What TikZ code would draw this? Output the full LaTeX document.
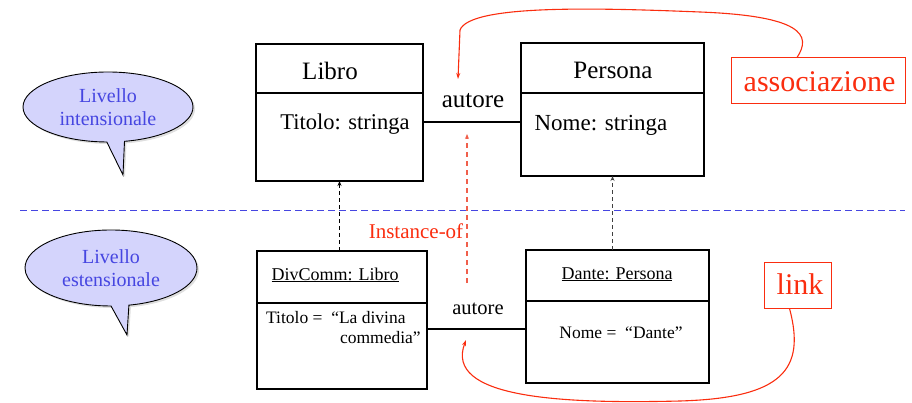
\documentclass[tikz,border=0pt]{standalone}
\usepackage{fontspec}
\setmainfont{Liberation Serif}
\usetikzlibrary{positioning,shapes.callouts,shadows,arrows.meta}

\definecolor{notered}{RGB}{250,45,15}
\definecolor{instred}{RGB}{240,95,75}
\definecolor{levelblue}{RGB}{70,70,225}
\definecolor{bubblefill}{RGB}{212,212,252}

\begin{document}
\begin{tikzpicture}[x=1pt, y=-1pt, line width=2.2pt,
  head/.style={draw, inner sep=0pt, outer sep=0pt},
  part/.style={draw, inner sep=0pt, outer sep=0pt},
  txt/.style={inner sep=0pt, anchor=base},
  level/.style={ellipse callout, draw, line width=0.9pt, fill=bubblefill,
    text=levelblue, inner sep=0pt, align=center, callout pointer arc=12,
    font=\fontsize{20}{23}\selectfont,
    drop shadow={opacity=0.25, shadow xshift=2pt, shadow yshift=-2pt}},
  note/.style={draw=notered, line width=1pt, text=notered, inner sep=0pt,
    font=\fontsize{30}{36}\selectfont},
  inst/.style={-{Stealth[length=5pt,width=4pt]}, line width=1.1pt, dash pattern=on 4pt off 3pt}]

  \useasboundingbox (0,0) rectangle (912,403);

  \node[head, minimum width=167, minimum height=49] (libro)    at (339.5,68.5) {};
  \node[part, minimum width=167, minimum height=88, below=0pt of libro]   (libroB) {};
  \node[head, minimum width=183, minimum height=50] (persona)  at (612.5,68) {};
  \node[part, minimum width=183, minimum height=83, below=0pt of persona] (personaB) {};
  \node[head, minimum width=170, minimum height=52] (divcomm)  at (342,277) {};
  \node[part, minimum width=170, minimum height=86, below=0pt of divcomm] (divcommB) {};
  \node[head, minimum width=183, minimum height=51] (dante)    at (617.5,275.5) {};
  \node[part, minimum width=183, minimum height=82, below=0pt of dante]   (danteB) {};

  \node[txt, font=\fontsize{25}{30}\selectfont]   (libroT)   at (330,80)  {Libro};
  \node[txt, font=\fontsize{25}{30}\selectfont]   (personaT) at (613,79)  {Persona};
  \node[txt, font=\fontsize{22.5}{27}\selectfont] (titolo)   at (345,130) {Titolo: stringa};
  \node[txt, font=\fontsize{23}{27}\selectfont]   (nome)     at (601,131) {Nome: stringa};
  \node[txt, font=\fontsize{25}{30}\selectfont]   (autoreA)  at (473,108) {autore};
  \node[txt, font=\fontsize{18}{22}\selectfont]   (divcommT) at (335,280) {\underline{DivComm: Libro}};
  \node[txt, font=\fontsize{18}{22}\selectfont]   (danteT)   at (617,279) {\underline{Dante: Persona}};
  \node[txt, font=\fontsize{17.5}{20}\selectfont, anchor=base west] (titoloV) at (265,334)
    {\begin{tabular}{@{}l@{\ \ }l@{}}Titolo = & ``La divina\\ & \ \ commedia''\end{tabular}};
  \node[txt, font=\fontsize{17.5}{21}\selectfont] (nomeV)    at (621,338) {Nome = \ ``Dante''};
  \node[txt, font=\fontsize{20.5}{24}\selectfont] (autoreB)  at (478,314) {autore};
  \node[txt, font=\fontsize{21}{25}\selectfont, text=notered] (instof) at (416,239) {Instance-of};

  \node[note, minimum width=174, minimum height=46] (assoc) at (818,81)    {};
  \node[txt, font=\fontsize{30}{36}\selectfont, text=notered] (assocT) at (819.5,92) {associazione};
  \node[note, minimum width=67, minimum height=46]  (link)  at (797.5,285) {};
  \node[txt, font=\fontsize{30}{36}\selectfont, text=notered] (linkT) at (800,294) {link};

  \coordinate (tipA) at (123,175);
  \coordinate (tipB) at (127,335);
  \node[level, minimum width=170, minimum height=70, callout absolute pointer={(tipA)}] (intens) at (108,107) {Livello\\intensionale};
  \node[level, minimum width=172, minimum height=76, callout absolute pointer={(tipB)}] (estens) at (111,268) {Livello\\estensionale};

  \coordinate (sepL) at (20,211);
  \coordinate (sepR) at (905,211);
  \coordinate (instLo) at (467,283);
  \coordinate (instHi) at (467,134);
  \coordinate (assocTip) at (458,79);
  \coordinate (linkTip) at (466,340);

  \draw[levelblue, line width=1pt, dash pattern=on 7pt off 4pt] (sepL) -- (sepR);
  \draw ([yshift=15]libroB.east) -- ([yshift=12.5]personaB.west);
  \draw ([yshift=17]divcommB.east) -- ([yshift=13]danteB.west);
  \draw[inst] (libroB.south |- divcomm.north) -- (libroB.south);
  \draw[inst, black!75] (personaB.south |- dante.north) -- (personaB.south);
  \draw[inst, instred, line width=1.4pt, dash pattern=on 5pt off 4pt] (instLo) -- (instHi);

  \draw[notered, line width=1.1pt, -{Stealth[length=6pt,width=4pt]}]
    ([xshift=-21]assoc.north) .. controls (812,35) and (802,16) .. (700,12)
    .. controls (600,8) and (470,4) .. (460,30) -- (assocTip);
  \draw[notered, line width=1.1pt, -{Stealth[length=6pt,width=4pt]}]
    ([xshift=-8]link.south) .. controls (806,370) and (782,398) .. (680,401)
    .. controls (560,404) and (444,398) .. (linkTip);
\end{tikzpicture}
\end{document}
